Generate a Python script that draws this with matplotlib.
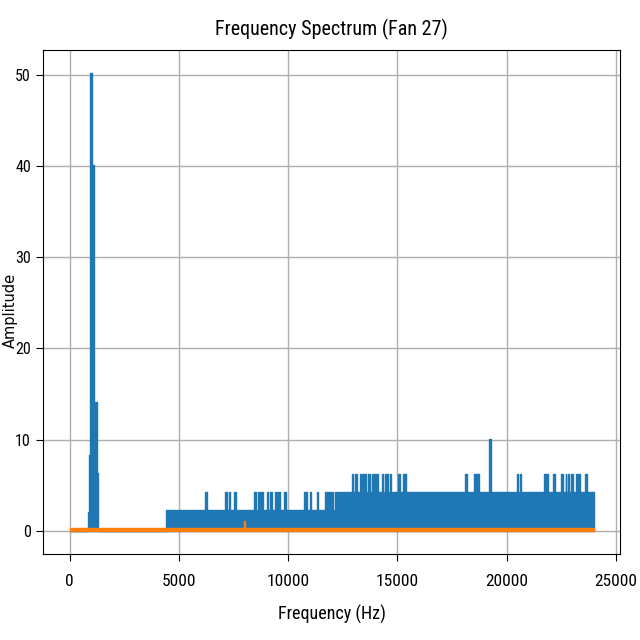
import numpy as np
import matplotlib
matplotlib.use("Agg")
import matplotlib.pyplot as plt
from matplotlib import font_manager
from matplotlib.font_manager import FontProperties

# ---------------- data ----------------
# Blue series, piecewise envelope: (start Hz, end Hz, amplitude)
blue_base_start = [0, 830, 890, 950, 1010, 1130, 1255, 1315, 4410, 12840]
blue_base_end = [830, 890, 950, 1010, 1130, 1255, 1315, 4410, 12840, 24000]
blue_base_level = [0.0, 2.1, 8.3, 50.2, 40.1, 14.1, 6.3, 0.0, 2.25, 4.2]

# narrow peaks rising above the base level
blue_peak_start = [6200, 7129, 7290, 7527, 8443, 8640, 8718, 8796, 9025, 9176,
                   9405, 9556, 9831, 10746, 10990, 11314, 11694, 11845, 11969,
                   12160, 12300, 12450, 12600,
                   12917, 13068, 13297, 13448, 13677, 13832, 13950, 14060,
                   14290, 14441, 14650, 15023, 15279, 18104, 18530,
                   19217, 20499, 20609, 21722, 21860, 22147, 22486, 22700,
                   22820, 22944, 23187, 23292, 23599]
blue_peak_end = [6291, 7221, 7340, 7619, 8535, 8680, 8760, 8869, 9098, 9254,
                 9483, 9634, 9895, 10856, 11030, 11387, 11772, 11900, 12074,
                 12250, 12400, 12550, 12807,
                 12990, 13146, 13375, 13558, 13755, 13900, 14020, 14135,
                 14364, 14593, 14690, 15128, 15389, 18182, 18759,
                 19295, 20545, 20655, 21845, 21900, 22239, 22605, 22740,
                 22860, 23036, 23233, 23370, 23704]
blue_peak_level = [4.2] * 23 + [6.2] * 15 + [10.1] + [6.2] * 12

# narrow dips below the surrounding level
blue_dip_start = [5030, 19165, 20211]
blue_dip_end = [5075, 19210, 20260]
blue_dip_level = [0.0, 2.3, 2.3]

# Orange series: (start Hz, end Hz, amplitude)
orange_start = [0, 8000, 8045]
orange_end = [8000, 8045, 24000]
orange_level = [0.3, 1.1, 0.3]


def envelope(layers):
    edges = sorted({e for starts, ends, _ in layers for e in list(starts) + list(ends)})
    levels = []
    for a, b in zip(edges[:-1], edges[1:]):
        mid = 0.5 * (a + b)
        val = 0.0
        for starts, ends, lv in layers:
            for s, e, v in zip(starts, ends, lv):
                if s <= mid < e:
                    val = v
        levels.append(val)
    levels.append(levels[-1])
    return np.array(edges, float), np.array(levels, float)


bx, by = envelope([(blue_base_start, blue_base_end, blue_base_level),
                   (blue_peak_start, blue_peak_end, blue_peak_level),
                   (blue_dip_start, blue_dip_end, blue_dip_level)])
ox, oy = envelope([(orange_start, orange_end, orange_level)])

# ---------------- fonts ----------------
available = {f.name for f in font_manager.fontManager.ttflist}
narrow = None
for cand in ["Roboto Condensed", "DejaVu Sans Condensed", "Liberation Sans Narrow",
             "Open Sans Condensed", "Noto Sans Condensed"]:
    if cand in available:
        narrow = cand
        break
if narrow is None:
    narrow = "DejaVu Sans"
    xt_size, yt_size, title_size, xlab_size = 10.5, 10, 12.5, 11
else:
    xt_size, yt_size, title_size, xlab_size = 12.5, 11.5, 14.5, 13
plt.rcParams["font.family"] = [narrow, "DejaVu Sans"]

# ---------------- figure ----------------
fig = plt.figure(figsize=(6.4, 6.4), dpi=100)
ax = fig.add_axes([0.0678, 0.135, 0.9012, 0.7864])

ax.fill_between(bx, 0, by, step="post", color="#1f77b4", edgecolor="#1f77b4",
                linewidth=1.0, zorder=2)
ax.fill_between(ox, 0, oy, step="post", color="#ff7f0e", edgecolor="#ff7f0e",
                linewidth=1.0, zorder=3)

ax.set_xlim(-1200, 25200)
ax.set_ylim(-2.51, 52.71)
ax.set_xticks([0, 5000, 10000, 15000, 20000, 25000])
ax.set_yticks([0, 10, 20, 30, 40, 50])
ax.grid(True, color="#b0b0b0", linewidth=1.0)
ax.set_axisbelow(True)
ax.tick_params(axis="both", length=5)
ax.tick_params(axis="x", pad=10, labelsize=xt_size)
ax.tick_params(axis="y", pad=4, labelsize=yt_size)

ax.set_title("Frequency Spectrum (Fan 27)", fontsize=title_size, pad=11)
ax.set_xlabel("Frequency (Hz)", fontsize=xlab_size, labelpad=11)
ax.set_ylabel("Amplitude",
              fontproperties=FontProperties(family="DejaVu Sans", size=10.5))
ax.yaxis.set_label_coords(-0.045, 0.484)

fig.savefig("out.png", dpi=100)
